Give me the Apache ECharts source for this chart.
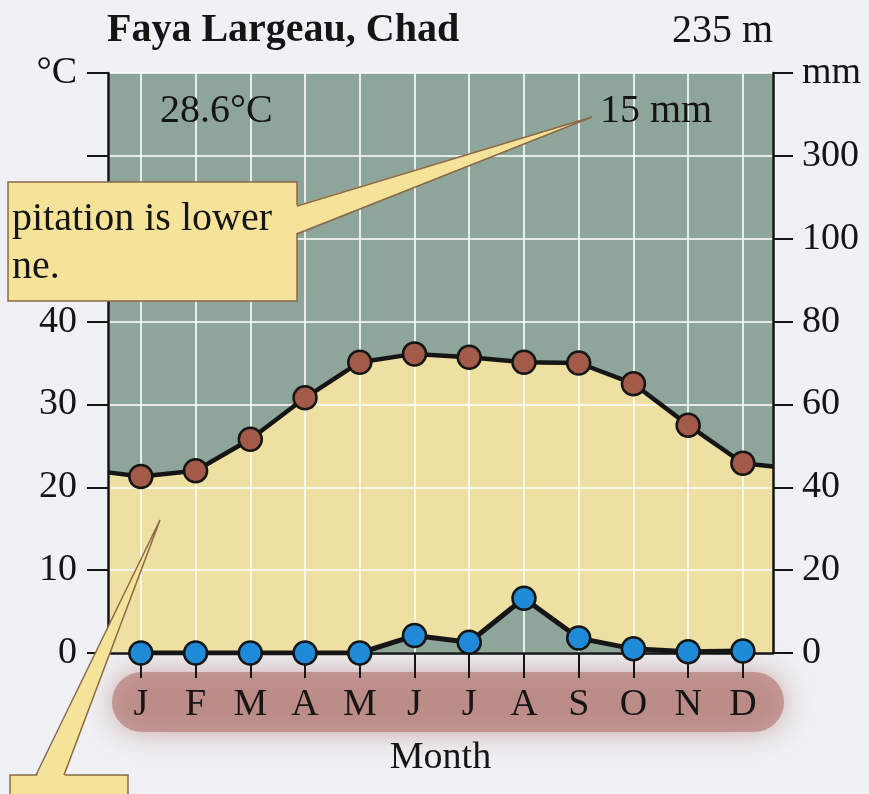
<!DOCTYPE html>
<html>
<head>
<meta charset="utf-8">
<script src="https://cdn.jsdelivr.net/npm/echarts@6/dist/echarts.min.js"></script>
<style>
html,body{margin:0;padding:0;background:#eff1f4;}
#chart{width:869px;height:794px;}
</style>
</head>
<body>
<div id="chart"></div>
<script>
// ---------- data ----------
const months = ['J','F','M','A','M','J','J','A','S','O','N','D'];
const monthIndex = [1,2,3,4,5,6,7,8,9,10,11,12];
const temperature = [21.3, 22.0, 25.8, 30.8, 35.1, 36.1, 35.7, 35.1, 35.0, 32.5, 27.5, 22.9]; // °C
const precipitation = [0, 0, 0, 0, 0, 4.2, 2.6, 13.2, 3.6, 1.0, 0.3, 0.5]; // mm
const tempAtEdges = [21.8, 22.5]; // temperature line where it meets the left / right frame
const leftTickLabels = ['0','10','20','30','40','50','','°C'];
const rightTickLabels = ['0','20','40','60','80','100','300','mm'];
const stationName = 'Faya Largeau, Chad';
const elevation = '235 m';
const meanTemp = '28.6°C';
const annualPrecip = '15 mm';
const calloutText = ['pitation is lower', 'ne.'];

// ---------- layout / style ----------
const X_MIN = 0.4, X_MAX = 12.55;
const SERIF = 'Liberation Serif';
const INK = '#151515';
const GREEN = '#8ea69a';
const YELLOW = '#ede0a2';
const CALLOUT = '#f6e39a';
const CALLOUT_EDGE = '#8a6848';

const xy = vals => vals.map((v, i) => [monthIndex[i], v]);
const tempPts = [[X_MIN, tempAtEdges[0]], ...xy(temperature), [X_MAX, tempAtEdges[1]]];
const tempLineData = tempPts.map((p, i) =>
  (i === 0 || i === tempPts.length - 1) ? { value: p, symbol: 'none' } : p);

const chart = echarts.init(document.getElementById('chart'), null, { renderer: 'canvas' });

const axisText = { fontFamily: SERIF, fontSize: 38, color: INK };

chart.setOption({
  animation: false,
  backgroundColor: '#eff1f4',
  title: [
    { text: stationName, left: 107, top: 11, padding: 0,
      textStyle: { fontFamily: SERIF, fontSize: 40, fontWeight: 'bold', color: INK } },
    { text: elevation, left: 672, top: 11, padding: 0,
      textStyle: { fontFamily: SERIF, fontSize: 40, fontWeight: 'normal', color: INK } }
  ],
  grid: { left: 108, right: 96, top: 73, bottom: 141, show: true,
          backgroundColor: GREEN, borderWidth: 0, containLabel: false, outerBoundsMode: 'none' },
  xAxis: {
    type: 'value', min: X_MIN, max: X_MAX, z: 3,
    axisLine: { show: true, lineStyle: { color: INK, width: 2.5 } },
    axisTick: { show: true, customValues: monthIndex, length: 25, lineStyle: { color: INK, width: 2 } },
    axisLabel: { customValues: monthIndex, formatter: v => months[Math.round(v) - 1],
                 margin: 33, ...axisText },
    splitLine: { show: true, lineStyle: { color: 'rgba(255,255,255,0.8)', width: 2 } },
    name: 'Month', nameLocation: 'middle', nameGap: 86,
    nameTextStyle: { ...axisText }
  },
  yAxis: [
    {
      type: 'value', min: 0, max: 70, interval: 10, position: 'left', z: 3,
      axisLine: { show: true, lineStyle: { color: INK, width: 2.5 } },
      axisTick: { show: true, length: 21, lineStyle: { color: INK, width: 2 } },
      axisLabel: { margin: 31, formatter: v => leftTickLabels[Math.round(v / 10)], ...axisText },
      splitLine: { show: true, lineStyle: { color: 'rgba(255,255,255,0.75)', width: 2 } }
    },
    {
      type: 'value', min: 0, max: 140, interval: 20, position: 'right', z: 3,
      axisLine: { show: true, lineStyle: { color: INK, width: 2.5 } },
      axisTick: { show: true, length: 20, lineStyle: { color: INK, width: 2 } },
      axisLabel: { margin: 29, formatter: v => rightTickLabels[Math.round(v / 20)], ...axisText },
      splitLine: { show: false }
    }
  ],
  series: [
    { type: 'line', name: 'tempArea', data: tempPts, symbol: 'none', z: 1, silent: true,
      lineStyle: { width: 0 }, areaStyle: { color: YELLOW, opacity: 1 } },
    { type: 'line', name: 'precArea', yAxisIndex: 1, data: xy(precipitation), symbol: 'none', z: 2, silent: true,
      lineStyle: { width: 0 }, areaStyle: { color: GREEN, opacity: 1 } },
    { type: 'line', name: 'Temperature', data: tempLineData, symbol: 'circle', symbolSize: 23, z: 4,
      lineStyle: { color: INK, width: 4.5 },
      itemStyle: { color: '#a35b49', borderColor: INK, borderWidth: 2.5 } },
    { type: 'line', name: 'Precipitation', yAxisIndex: 1, data: xy(precipitation), symbol: 'circle', symbolSize: 23, z: 4,
      lineStyle: { color: INK, width: 5 },
      itemStyle: { color: '#1f8bd8', borderColor: INK, borderWidth: 2.5 } }
  ],
  graphic: [
    // rose band behind month letters
    { type: 'rect', z: 0, silent: true,
      shape: { x: 112, y: 672, width: 672, height: 60, r: 30 },
      style: { fill: 'rgba(182,128,124,0.72)', shadowBlur: 30, shadowColor: 'rgba(182,128,124,0.9)' } },
    // annotations
    { type: 'text', z: 10, style: { text: meanTemp, x: 160, y: 111, verticalAlign: 'middle',
      font: '40px "Liberation Serif"', fill: INK } },
    { type: 'text', z: 10, style: { text: annualPrecip, x: 600, y: 111, verticalAlign: 'middle',
      font: '40px "Liberation Serif"', fill: INK } },
    // callout 1
    { type: 'rect', z: 100, shape: { x: 8, y: 182, width: 289, height: 119 },
      style: { fill: CALLOUT, stroke: CALLOUT_EDGE, lineWidth: 1.5 } },
    { type: 'polygon', z: 101, shape: { points: [[294, 206], [592, 117], [294, 234]] },
      style: { fill: CALLOUT } },
    { type: 'polyline', z: 102, shape: { points: [[297, 206], [592, 117], [297, 234]] },
      style: { stroke: CALLOUT_EDGE, lineWidth: 1.5, fill: null } },
    { type: 'text', z: 103, style: { text: calloutText[0], x: 12, y: 219, verticalAlign: 'middle',
      font: '40px "Liberation Serif"', fill: INK } },
    { type: 'text', z: 103, style: { text: calloutText[1], x: 12, y: 267, verticalAlign: 'middle',
      font: '40px "Liberation Serif"', fill: INK } },
    // callout 2
    { type: 'rect', z: 100, shape: { x: 10, y: 775, width: 118, height: 40 },
      style: { fill: CALLOUT, stroke: CALLOUT_EDGE, lineWidth: 1.5 } },
    { type: 'polygon', z: 101, shape: { points: [[36, 778], [160, 520], [64, 778]] },
      style: { fill: CALLOUT } },
    { type: 'polyline', z: 102, shape: { points: [[36, 775], [160, 520], [64, 775]] },
      style: { stroke: CALLOUT_EDGE, lineWidth: 1.5, fill: null } }
  ]
});
</script>
</body>
</html>
